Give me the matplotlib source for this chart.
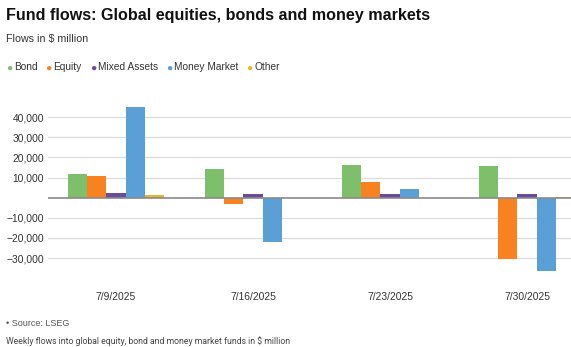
import numpy as np
import matplotlib.pyplot as plt

# Weekly fund flows, $ million
weeks = ["7/9/2025", "7/16/2025", "7/23/2025", "7/30/2025"]
series = ["Bond", "Equity", "Mixed Assets", "Money Market", "Other"]
bond = [11600, 14400, 16300, 15800]
equity = [10800, -3300, 7600, -30500]
mixed = [2200, 1800, 1800, 1800]
money_market = [45300, -21900, 4300, -36300]
other = [1300, 0, 0, 400]
yticks = [-30000, -20000, -10000, 10000, 20000, 30000, 40000]

colors = ["#7dbf6b", "#f7821f", "#6a4c9c", "#5a9fd5", "#e8b524"]

W, H = 571, 347
fig = plt.figure(figsize=(W / 100, H / 100), dpi=100)
plt.rcParams['font.family'] = ['Liberation Sans', 'DejaVu Sans']

# plot area placed in pixel units
ax_left, ax_top, ax_bottom = 48, 97.2, 278.1
ax = fig.add_axes([ax_left / W, 1 - ax_bottom / H, 1 - ax_left / W, (ax_bottom - ax_top) / H])

x = np.arange(len(weeks))
bw = 0.141
values = [bond, equity, mixed, money_market, other]
for i, (vals, c) in enumerate(zip(values, colors)):
    ax.bar(x + (i - 2) * bw, vals, width=bw, color=c, zorder=2)

ax.set_xlim(-0.496, 3.321)
ax.set_ylim(-40000, 50000)
ax.set_xticks(x)
ax.set_xticklabels(weeks)
ax.set_yticks(yticks)
ax.set_yticklabels([f"{v:,}".replace("-", "\u2212") for v in yticks])
ax.tick_params(axis='both', length=0, labelsize=7.4, colors='#333333')
ax.tick_params(axis='x', pad=10)
ax.tick_params(axis='y', pad=3)
for s in ax.spines.values():
    s.set_visible(False)
ax.grid(axis='y', color='#dcdcdc', linewidth=0.9, zorder=0)
ax.axhline(0, color='#8a8a8a', linewidth=1.2, zorder=3)

# titles
fig.text(6 / W, 1 - 20 / H, "Fund flows: Global equities, bonds and money markets",
         fontsize=11.6, fontweight='bold', color='#111111', va='baseline')
fig.text(6 / W, 1 - 42 / H, "Flows in $ million", fontsize=7.7, color='#333333', va='baseline')

# legend row
fig.canvas.draw()
renderer = fig.canvas.get_renderer()
lx = 9
for name, c in zip(series, colors):
    fig.text(lx / W, 1 - 67.5 / H, "\u25cf", fontsize=7.5, color=c, ha='center', va='center')
    t = fig.text((lx + 5) / W, 1 - 67 / H, name, fontsize=7.3, color='#333333', va='center')
    bb = t.get_window_extent(renderer)
    lx = bb.x1 + 11

# footer
fig.text(6 / W, 1 - 324 / H, "\u2022 Source: LSEG", fontsize=6.5, color='#555555', va='center')
fig.text(6 / W, 1 - 341 / H, "Weekly flows into global equity, bond and money market funds in $ million",
         fontsize=6.2, color='#444444', va='center', family=['Roboto', 'DejaVu Sans'])

fig.savefig("out.png", dpi=100)
